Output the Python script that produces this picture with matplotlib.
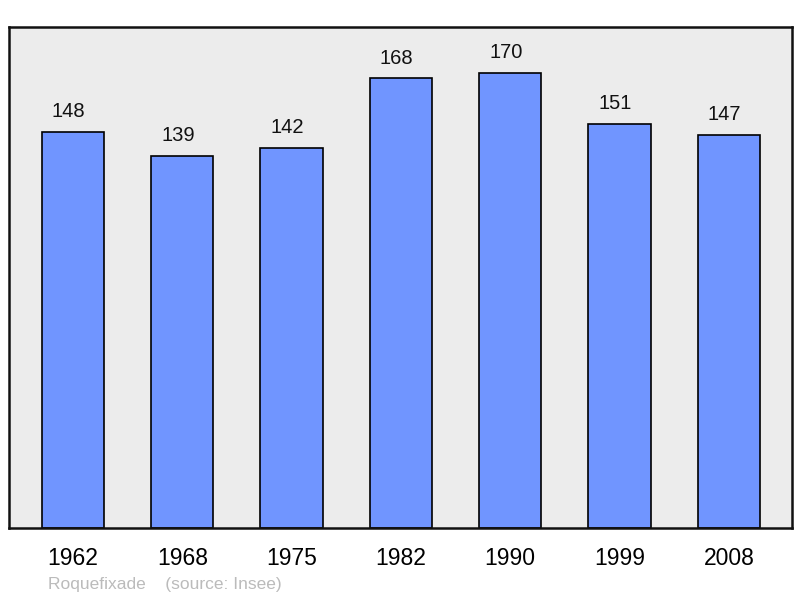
import matplotlib.pyplot as plt
import numpy as np

years = ['1962', '1968', '1975', '1982', '1990', '1999', '2008']
population = [148, 139, 142, 168, 170, 151, 147]

plt.rcParams['font.family'] = ['Liberation Sans', 'DejaVu Sans']

fig = plt.figure(figsize=(8, 5.98), dpi=100)
ax = fig.add_axes([9 / 800, 70 / 598, 783 / 800, 501 / 598])
ax.set_facecolor('#ececec')

x = np.arange(len(years))
ax.bar(x, population, width=0.57, color='#7095ff', edgecolor='black', linewidth=1.2, zorder=2)
for xi, v in zip(x, population):
    ax.annotate(str(v), (xi, v), xytext=(-3, 7.7), textcoords='offset points',
                ha='center', va='bottom', fontsize=14.5, color='#111111')

ax.set_xlim(-0.585, len(years) - 1 + 0.578)
ax.set_ylim(0, 187.2)
ax.set_yticks([])
ax.set_xticks(x)
ax.set_xticklabels(years, fontsize=16.5)
ax.tick_params(axis='x', length=0, pad=13.5)
for s in ax.spines.values():
    s.set_linewidth(1.8)
    s.set_color('#111111')

fig.text(48 / 800, 1 - 584 / 598, 'Roquefixade    (source: Insee)', fontsize=12.5,
         color='#bbbbbb', va='center', ha='left')

fig.savefig('out.png', dpi=100)
